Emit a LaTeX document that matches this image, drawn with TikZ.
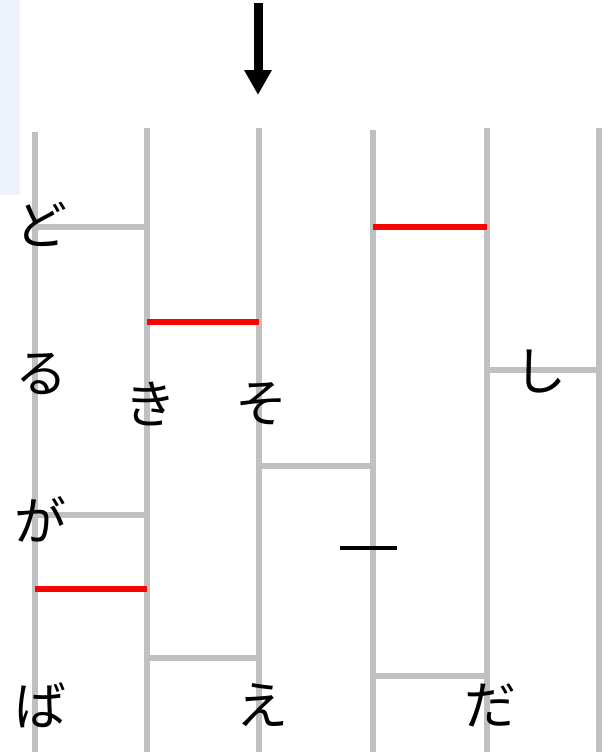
\documentclass[tikz,border=0pt]{standalone}
\usepackage{fontspec}
\newfontfamily\cjk{Noto Sans CJK JP}
\usetikzlibrary{arrows.meta}
\definecolor{rail}{HTML}{C0C0C0}
\definecolor{panel}{HTML}{EEF2FB}
\begin{document}
\begin{tikzpicture}[x=1pt,y=-1pt,
  railline/.style={draw=rail,line width=6pt},
  rung/.style={draw=rail,line width=5.5pt},
  redrung/.style={draw=red,line width=5.5pt},
  lbl/.style={font=\cjk\fontsize{52}{52}\selectfont,inner sep=0pt}]
\useasboundingbox (0,0) rectangle (615,755);
\fill[panel] (0,0) rectangle (20,195);
% rails
\foreach \n/\x/\t in {a/35/132,b/147/128,c/259/128,d/373/130,e/487/128,f/599/128}{
  \coordinate (\n t) at (\x,\t);
  \coordinate (\n b) at (\x,752);
  \draw[railline] (\n t) -- (\n b);
}
% arrow
\coordinate (arrS) at (258,3);
\coordinate (arrE) at (258,95);
\draw[line width=9pt,-{Triangle[length=25pt,width=26pt]}] (arrS) -- (arrE);
% rungs
\coordinate (r1a) at (35,227); \coordinate (r1b) at (147,227);
\draw[rung] (r1a) -- (r1b);
\coordinate (r2a) at (373,227); \coordinate (r2b) at (487,227);
\draw[redrung] (r2a) -- (r2b);
\coordinate (r3a) at (147,322); \coordinate (r3b) at (259,322);
\draw[redrung] (r3a) -- (r3b);
\coordinate (r4a) at (487,370); \coordinate (r4b) at (599,370);
\draw[rung] (r4a) -- (r4b);
\coordinate (r5a) at (259,466); \coordinate (r5b) at (373,466);
\draw[rung] (r5a) -- (r5b);
\coordinate (r6a) at (35,515); \coordinate (r6b) at (147,515);
\draw[rung] (r6a) -- (r6b);
\coordinate (r7a) at (35,589); \coordinate (r7b) at (147,589);
\draw[redrung] (r7a) -- (r7b);
\coordinate (r8a) at (147,658); \coordinate (r8b) at (259,658);
\draw[rung] (r8a) -- (r8b);
\coordinate (r9a) at (373,676); \coordinate (r9b) at (487,676);
\draw[rung] (r9a) -- (r9b);
\coordinate (k1) at (340,548); \coordinate (k2) at (397,548);
\draw[line width=3.3pt] (k1) -- (k2);
% labels
\node[lbl] (do) at (42,224) {ど};
\node[lbl] (ru) at (42,374) {る};
\node[lbl] (ki) at (150,404) {き};
\node[lbl] (so) at (261,404) {そ};
\node[lbl] (si) at (540,372) {し};
\node[lbl] (ga) at (40,519) {が};
\node[lbl] (ba) at (40,705) {ば};
\node[lbl] (e) at (262,705) {え};
\node[lbl] (da) at (490,705) {だ};
\end{tikzpicture}
\end{document}
